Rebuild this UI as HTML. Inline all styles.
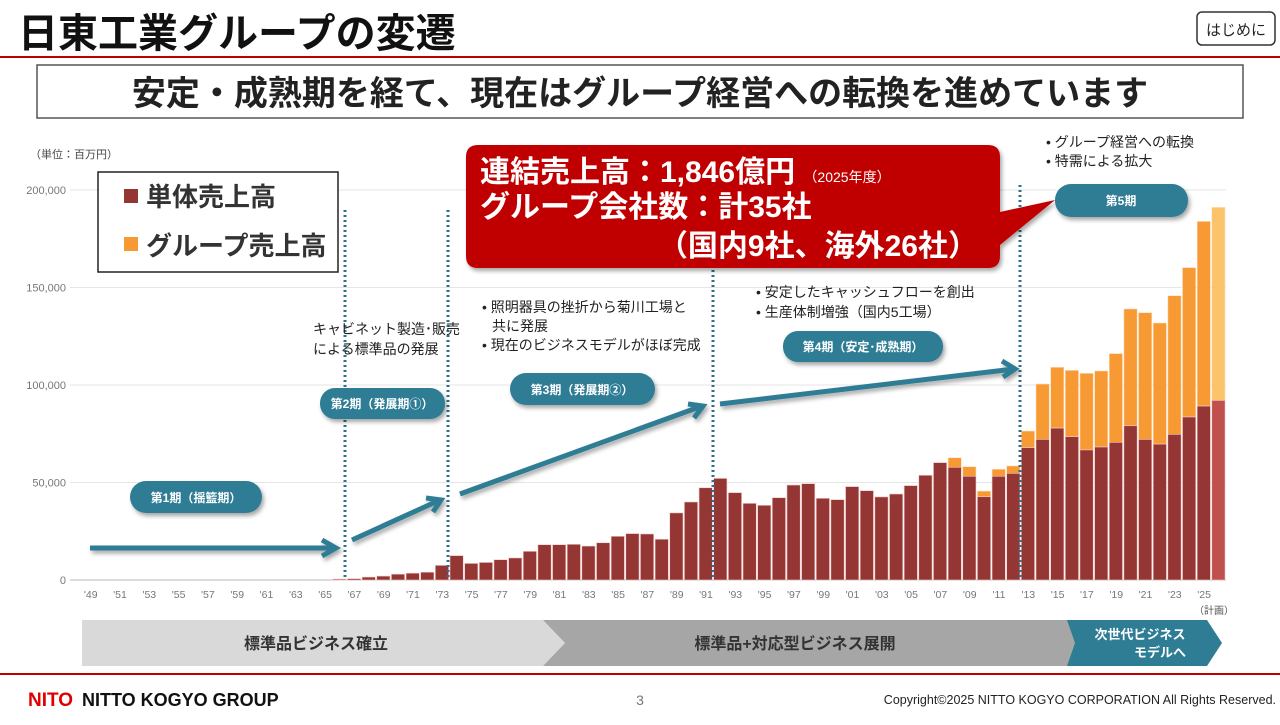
<!DOCTYPE html>
<html><head><meta charset="utf-8"><style>
body{margin:0;width:1280px;height:720px;background:#fff;overflow:hidden;font-family:"Liberation Sans","Noto Sans CJK JP",sans-serif;}
svg text{font-family:"Liberation Sans","Noto Sans CJK JP",sans-serif;}
</style></head><body>
<svg id="c" width="1280" height="720" viewBox="0 0 1280 720" xmlns="http://www.w3.org/2000/svg">
<defs><filter id="sh" x="-10%" y="-10%" width="130%" height="140%"><feDropShadow dx="2" dy="3" stdDeviation="2" flood-opacity="0.35"/></filter></defs>
<text x="18" y="47" font-size="40" font-weight="bold" fill="#111">日東工業グループの変遷</text>
<line x1="0" y1="57" x2="1280" y2="57" stroke="#c00000" stroke-width="2"/>
<rect x="1197" y="12" width="78" height="33" rx="5" fill="#fff" stroke="#333" stroke-width="1.5"/>
<text x="1236" y="35" font-size="15" text-anchor="middle" fill="#222">はじめに</text>
<rect x="37" y="65" width="1206" height="53" fill="#fff" stroke="#555" stroke-width="1.5"/>
<text x="640" y="105" font-size="34" font-weight="bold" text-anchor="middle" fill="#222">安定・成熟期を経て、現在はグループ経営への転換を進めています</text>
<text x="30" y="158" font-size="11" fill="#444">（単位：百万円）</text>
<g id="grid"></g><g id="bars"></g><g id="xlab"></g>
<text x="1214" y="614" font-size="10" fill="#555" text-anchor="middle">（計画）</text>
<g stroke="#2e6f8a" stroke-width="3" stroke-dasharray="2,3">
<line x1="345" y1="210" x2="345" y2="580"/><line x1="448" y1="210" x2="448" y2="580"/><line x1="713" y1="270" x2="713" y2="580"/><line x1="1020" y1="185" x2="1020" y2="580"/></g>
<g stroke="#2e7d95" stroke-width="5" fill="none" filter="url(#sh)">
<line x1="90" y1="548" x2="334" y2="548"/><polyline points="322,540 336,548 322,556"/>
<line x1="352" y1="540" x2="440" y2="500"/><polyline points="426,498 441,500 433,512"/>
<line x1="460" y1="494" x2="702" y2="406"/><polyline points="688,404 703,406 694,418"/>
<line x1="720" y1="404" x2="1014" y2="369"/><polyline points="1002,361 1015,369 1003,377"/></g>
<g>
<rect x="98" y="172" width="240" height="100" fill="#fff" stroke="#222" stroke-width="1.5"/>
<rect x="124" y="189" width="14" height="14" fill="#943634"/>
<text x="146" y="206" font-size="26" font-weight="bold" fill="#333">単体売上高</text>
<rect x="124" y="237" width="14" height="14" fill="#f79a34"/>
<text x="146" y="255" font-size="26" font-weight="bold" fill="#333">グループ売上高</text></g>
<g filter="url(#sh)">
<path d="M478,145 H988 Q1000,145 1000,157 V212 L1055,200 L1000,245 V256 Q1000,268 988,268 H478 Q466,268 466,256 V157 Q466,145 478,145 Z" fill="#c00000"/></g>
<text x="480" y="182" font-size="30" font-weight="bold" fill="#fff">連結売上高：1,846億円 <tspan font-size="14" font-weight="normal">（2025年度）</tspan></text>
<text x="480" y="217" font-size="30" font-weight="bold" fill="#fff">グループ会社数：計35社</text>
<text x="978" y="256" font-size="30" font-weight="bold" fill="#fff" text-anchor="end">（国内9社、海外26社）</text>
<g font-size="14" fill="#222">
<text x="313" y="334">キャビネット製造･販売</text><text x="313" y="354">による標準品の発展</text>
<text x="482" y="312">• 照明器具の挫折から菊川工場と</text><text x="492" y="331">共に発展</text><text x="482" y="350">• 現在のビジネスモデルがほぼ完成</text>
<text x="756" y="297">• 安定したキャッシュフローを創出</text><text x="756" y="317">• 生産体制増強（国内5工場）</text>
<text x="1046" y="147">• グループ経営への転換</text><text x="1046" y="166">• 特需による拡大</text></g>
<g fill="#2e7d95" filter="url(#sh)">
<rect x="130" y="481" width="132" height="32" rx="16"/><rect x="320" y="388" width="125" height="31" rx="15"/>
<rect x="510" y="373" width="145" height="32" rx="16"/><rect x="783" y="331" width="160" height="31" rx="15"/><rect x="1055" y="184" width="133" height="33" rx="16"/></g>
<g fill="#fff" font-size="12" font-weight="bold" text-anchor="middle">
<text x="196" y="502">第1期（揺籃期）</text>
<text x="382" y="408">第2期（発展期①）</text>
<text x="582" y="394">第3期（発展期②）</text>
<text x="863" y="351">第4期（安定･成熟期）</text>
<text x="1121" y="205">第5期</text></g>
<g>
<polygon points="82,620 543,620 565,643 543,666 82,666" fill="#d9d9d9"/>
<polygon points="543,620 1075,620 1097,643 1075,666 543,666 565,643" fill="#a6a6a6"/>
<polygon points="1067,620 1207,620 1222,643 1207,666 1067,666 1075,643" fill="#2e7d95"/></g>
<text x="316" y="649" font-size="16" font-weight="bold" text-anchor="middle" fill="#333">標準品ビジネス確立</text>
<text x="795" y="649" font-size="16" font-weight="bold" text-anchor="middle" fill="#333">標準品+対応型ビジネス展開</text>
<text x="1140" y="639" font-size="13" font-weight="bold" text-anchor="middle" fill="#fff">次世代ビジネス</text>
<text x="1160" y="657" font-size="13" font-weight="bold" text-anchor="middle" fill="#fff">モデルへ</text>
<line x1="0" y1="674" x2="1280" y2="674" stroke="#c00000" stroke-width="2"/>
<text x="28" y="706" font-size="19" font-weight="bold" fill="#e00000">NITO</text>
<text x="82" y="706" font-size="18" font-weight="bold" fill="#111">NITTO KOGYO GROUP</text>
<text x="640" y="705" font-size="14" fill="#777" text-anchor="middle">3</text>
<text x="1276" y="704" font-size="12.5" fill="#222" text-anchor="end">Copyright©2025 NITTO KOGYO CORPORATION All Rights Reserved.</text>
</svg>
<script>
const years=[];for(let y=1949;y<=2025;y++)years.push(y);
const standalone=[0,0,0,0,0,0,0,0,0,0,0,0,0,0,0,0,0.5,0.7,1.5,2,3,3.5,4,7.5,12.5,8.5,9,10.4,11.3,14.7,18.1,18.1,18.3,17.4,19.1,22.4,23.8,23.6,20.9,34.4,40,47.3,52.1,44.8,39.3,38.3,42.2,48.7,49.4,41.9,41.2,47.9,45.8,42.6,44.1,48.4,53.7,60.2,57.8,53.2,42.7,53.2,54.7,67.9,72.1,77.9,73.5,66.7,68.2,70.6,79.1,72.1,69.7,74.7,83.6,89.2,92.1];
const groupTotal=[0,0,0,0,0,0,0,0,0,0,0,0,0,0,0,0,0.5,0.7,1.5,2,3,3.5,4,7.5,12.5,8.5,9,10.4,11.3,14.7,18.1,18.1,18.3,17.4,19.1,22.4,23.8,23.6,20.9,34.4,40,47.3,52.1,44.8,39.3,38.3,42.2,48.7,49.4,41.9,41.2,47.9,45.8,42.6,44.1,48.4,53.7,60.2,62.7,58.1,45.6,56.8,58.5,76.4,100.5,109.1,107.5,106,107.2,116.1,139,137.1,131.8,145.8,160.2,183.9,191.1];
const yTicks=[0,50,100,150,200];
const yTickLabels=["0","50,000","100,000","150,000","200,000"];
const NS="http://www.w3.org/2000/svg";
const x0=97.7,bw=14.65,x1=1226,yb=580,yt=190,maxV=200;
const X=i=>x0+i*bw;
const Y=v=>yb-(v/maxV)*(yb-yt);
function mk(tag,attrs,parent){const e=document.createElementNS(NS,tag);for(const k in attrs)e.setAttribute(k,attrs[k]);parent.appendChild(e);return e;}
const grid=document.getElementById('grid'),bars=document.getElementById('bars'),xl=document.getElementById('xlab');
yTicks.forEach((t,i)=>{
 const l=mk('line',{x1:70,x2:x1,y1:Y(t),y2:Y(t),stroke:i==0?'#bbb':'#e6e6e6','stroke-width':1},grid);
 
 
 const tx=mk('text',{x:66,y:Y(t)+4,'font-size':11,fill:'#777','text-anchor':'end'},grid);
 tx.textContent=yTickLabels[i];
 
 
});
years.forEach((yr,i)=>{
 const last=i==years.length-1;
 if(groupTotal[i]>standalone[i]){
  const g=mk('rect',{x:X(i)+0.7,y:Y(groupTotal[i]),width:bw-1.4,height:Y(standalone[i])-Y(groupTotal[i]),fill:last?'#fbc46a':'#f79a34',stroke:'#fde0c0','stroke-width':0.6},bars);
  
  
 }
 if(standalone[i]>0){
  const r=mk('rect',{x:X(i)+0.7,y:Y(standalone[i]),width:bw-1.4,height:yb-Y(standalone[i]),fill:last?'#c0504d':'#943634',stroke:'#f2c9c8','stroke-width':0.6},bars);
  
  
 }
 if(yr%2==1){
  const t=mk('text',{x:X(i)-7,y:598,'font-size':10.5,fill:'#777','text-anchor':'middle'},xl);
  t.textContent="'"+String(yr).slice(2);
  
  
 }
});
</script>
</body></html>
